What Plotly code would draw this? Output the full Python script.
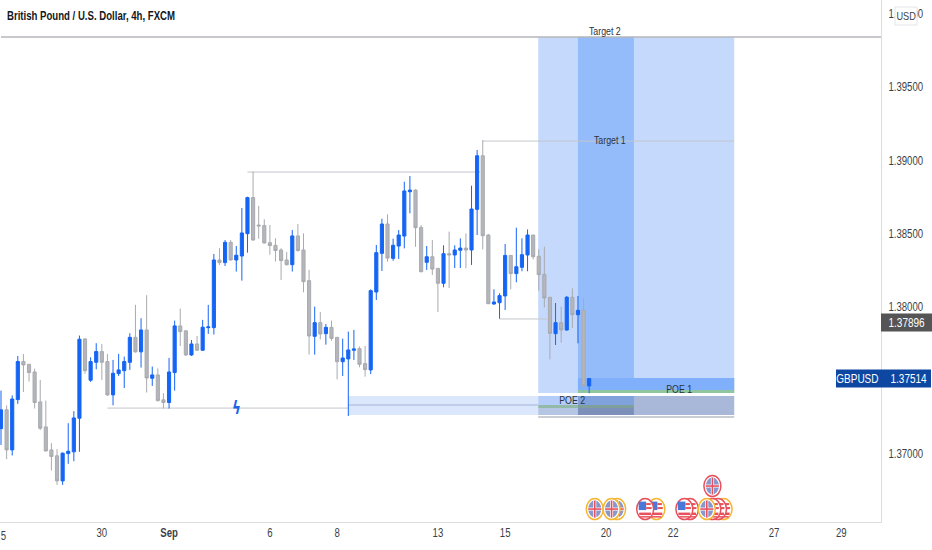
import plotly.graph_objects as go

# GBPUSD 4h candles
opens = [1.37173, 1.37301, 1.37028, 1.37371, 1.37630, 1.37611, 1.37559, 1.37355, 1.37185, 1.37028,
         1.36988, 1.36817, 1.37003, 1.37015, 1.37244, 1.37784, 1.37503, 1.37625, 1.37698, 1.37630,
         1.37403, 1.37548, 1.37568, 1.37625, 1.37795, 1.37696, 1.37845, 1.37516, 1.37539, 1.37369,
         1.37351, 1.37555, 1.37873, 1.37839, 1.37675, 1.37750, 1.37707, 1.37861, 1.37861, 1.38322,
         1.38304, 1.38442, 1.38322, 1.38349, 1.38501, 1.38747, 1.38560, 1.38556, 1.38440, 1.38422,
         1.38390, 1.38322, 1.38290, 1.38486, 1.38390, 1.38181, 1.37802, 1.37895, 1.37820, 1.37863,
         1.37795, 1.37629, 1.37648, 1.37707, 1.37718, 1.37616, 1.37573, 1.38104, 1.38367, 1.38567,
         1.38333, 1.38417, 1.38485, 1.38787, 1.38798, 1.38544, 1.38306, 1.38344, 1.38265, 1.38163,
         1.38365, 1.38356, 1.38388, 1.38403, 1.38390, 1.38667, 1.39032, 1.38492, 1.38022, 1.38031,
         1.38077, 1.38353, 1.38229, 1.38272, 1.38356, 1.38492, 1.38347, 1.38224, 1.38068, 1.37820,
         1.37895, 1.37845, 1.38068, 1.37949, 1.37979, 1.37464]
highs = [1.37432, 1.37332, 1.37400, 1.37668, 1.37682, 1.37611, 1.37582, 1.37505, 1.37364, 1.37074,
         1.37033, 1.37010, 1.37210, 1.37292, 1.37807, 1.37789, 1.37659, 1.37755, 1.37750, 1.37682,
         1.37641, 1.37682, 1.37664, 1.37823, 1.38016, 1.37925, 1.38082, 1.37596, 1.37584, 1.37414,
         1.37655, 1.37909, 1.37991, 1.37843, 1.37777, 1.37805, 1.37914, 1.38016, 1.38363, 1.38402,
         1.38458, 1.38458, 1.38417, 1.38676, 1.38753, 1.38924, 1.38690, 1.38599, 1.38560, 1.38470,
         1.38402, 1.38377, 1.38526, 1.38567, 1.38503, 1.38254, 1.38004, 1.37968, 1.37886, 1.37909,
         1.37795, 1.37786, 1.37834, 1.37845, 1.37732, 1.37736, 1.38122, 1.38424, 1.38603, 1.38633,
         1.38467, 1.38526, 1.38855, 1.38894, 1.38803, 1.38560, 1.38417, 1.38458, 1.38265, 1.38422,
         1.38515, 1.38422, 1.38469, 1.38503, 1.38828, 1.39071, 1.39139, 1.38499, 1.38122, 1.38095,
         1.38431, 1.38356, 1.38542, 1.38469, 1.38530, 1.38492, 1.38394, 1.38412, 1.38068, 1.38029,
         1.38004, 1.38077, 1.38129, 1.38077, 1.38061, 1.37516]
lows = [1.37062, 1.36965, 1.36990, 1.37342, 1.37423, 1.37494, 1.37310, 1.37164, 1.37017, 1.36888,
        1.36790, 1.36790, 1.36933, 1.36951, 1.37015, 1.37546, 1.37491, 1.37577, 1.37505, 1.37396,
        1.37332, 1.37532, 1.37450, 1.37573, 1.37691, 1.37589, 1.37419, 1.37464, 1.37357, 1.37310,
        1.37310, 1.37432, 1.37736, 1.37668, 1.37668, 1.37705, 1.37705, 1.37818, 1.37814, 1.38288,
        1.38281, 1.38318, 1.38243, 1.38181, 1.38372, 1.38454, 1.38467, 1.38433, 1.38358, 1.38311,
        1.38186, 1.38284, 1.38243, 1.38379, 1.38102, 1.37677, 1.37677, 1.37781, 1.37745, 1.37772,
        1.37509, 1.37532, 1.37259, 1.37641, 1.37591, 1.37527, 1.37545, 1.38049, 1.38247, 1.38310,
        1.38317, 1.38329, 1.38401, 1.38640, 1.38412, 1.38238, 1.38254, 1.38220, 1.37968, 1.38136,
        1.38131, 1.38267, 1.38267, 1.38265, 1.38288, 1.38492, 1.38394, 1.38022, 1.38017, 1.37922,
        1.37981, 1.38122, 1.38170, 1.38245, 1.38245, 1.38326, 1.38113, 1.37999, 1.37645, 1.37743,
        1.37759, 1.37840, 1.37859, 1.37754, 1.37425, 1.37414]
closes = [1.37301, 1.37028, 1.37375, 1.37630, 1.37607, 1.37555, 1.37351, 1.37176, 1.37021, 1.36983,
          1.36817, 1.37006, 1.37019, 1.37246, 1.37782, 1.37568, 1.37630, 1.37698, 1.37625, 1.37403,
          1.37550, 1.37573, 1.37630, 1.37795, 1.37696, 1.37845, 1.37518, 1.37539, 1.37364, 1.37351,
          1.37559, 1.37873, 1.37834, 1.37675, 1.37750, 1.37707, 1.37864, 1.37866, 1.38322, 1.38304,
          1.38442, 1.38322, 1.38354, 1.38506, 1.38747, 1.38458, 1.38554, 1.38438, 1.38420, 1.38386,
          1.38318, 1.38290, 1.38486, 1.38386, 1.38174, 1.37804, 1.37895, 1.37818, 1.37863, 1.37788,
          1.37629, 1.37654, 1.37709, 1.37716, 1.37611, 1.37575, 1.38113, 1.38372, 1.38567, 1.38335,
          1.38422, 1.38492, 1.38792, 1.38798, 1.38542, 1.38242, 1.38344, 1.38260, 1.38163, 1.38365,
          1.38356, 1.38390, 1.38403, 1.38390, 1.38669, 1.39032, 1.38487, 1.38024, 1.38036, 1.38079,
          1.38353, 1.38229, 1.38276, 1.38358, 1.38492, 1.38344, 1.38222, 1.38063, 1.37822, 1.37895,
          1.37845, 1.38068, 1.37949, 1.37979, 1.37464, 1.37514]
candle_index = list(range(len(opens)))

# axis labels
date_ticks = [18, 30, 48, 60, 78, 90, 108, 120, 138, 150]
date_labels = ['30', '<b>Sep</b>', '6', '8', '13', '15', '20', '22', '27', '29']
price_ticks = [1.37, 1.375, 1.38, 1.385, 1.39, 1.395, 1.40]
price_labels = ['1.37000', '1.37500', '1.38000', '1.38500', '1.39000', '1.39500', '1.40000']

# levels drawn on the chart
target_2 = 1.39841
target_1 = 1.39132
swing_high = 1.38921
swing_low = 1.37920
old_low = 1.37313
poe1_top, poe1_bottom, poe1_edge = 1.37518, 1.37436, 1.37416
poe2_top, poe2_mid, poe2_bottom, poe2_edge = 1.37395, 1.37334, 1.37266, 1.37252
box_left, band_left, band_right, box_right = 95.9, 103.0, 113.0, 130.9
last_price = 1.37514
mark_price = 1.37896

# economic calendar icons, back to front
event_x = [110, 106, 109, 117, 115, 123, 122, 129, 128, 127, 126, 127]
event_flag = ['uk', 'uk', 'uk', 'us', 'us', 'us', 'us', 'us', 'us', 'us', 'uk', 'uk']
event_ring = ['#f5b731', '#f5b731', '#f5b731', '#f5b731', '#e8505b', '#e8505b', '#e8505b',
              '#f5b731', '#e8505b', '#e8505b', '#f5b731', '#e8505b']
event_y = [1.36625] * 11 + [1.36782]

FONT = 'Liberation Sans'
BLUE = '#1565f5'
GREY = '#b4b6bb'

fig = go.Figure()
fig.add_trace(go.Candlestick(
    x=candle_index, open=opens, high=highs, low=lows, close=closes,
    increasing=dict(line=dict(color=BLUE, width=1), fillcolor=BLUE),
    decreasing=dict(line=dict(color='#a8aaaf', width=1), fillcolor=GREY),
    whiskerwidth=0, showlegend=False, hoverinfo='skip',
))


def box(x0, x1, y0, y1, color):
    fig.add_shape(type='rect', x0=x0, x1=x1, y0=y0, y1=y1, fillcolor=color,
                  line_width=0, layer='below')


def level(x0, x1, y, color='#c4c6cb', width=1, layer='below'):
    fig.add_shape(type='line', x0=x0, x1=x1, y0=y, y1=y,
                  line=dict(color=color, width=width), layer=layer)


# long position boxes
box(box_left, box_right, poe1_edge, target_2, '#c5d9fd')
box(band_left, band_right, poe1_edge, target_2, '#94bcfb')
box(band_left, box_right, poe1_bottom, poe1_top, '#80b0fb')
box(band_left, box_right, poe1_edge, poe1_bottom, '#8fc6a0')
box(62, box_left, poe2_bottom, poe2_top, '#dbe7fd')
box(box_left, band_left, poe2_mid, poe2_top, '#b4cdf8')
box(box_left, band_left, old_low, poe2_mid, '#93b9a8')
box(box_left, band_left, poe2_bottom, old_low, '#b5c5e4')
box(band_left, band_right, poe2_mid, poe2_top, '#7fa2dc')
box(band_left, band_right, old_low, poe2_mid, '#7f9f9a')
box(band_left, band_right, poe2_bottom, old_low, '#7d90ba')
box(band_right, box_right, poe2_bottom, poe2_top, '#a9b8d8')

level(0, 157.1, target_2, '#b4b6ba', 1.5, 'above')
level(86, box_right, target_1)
level(44, 85.5, swing_high)
level(89, 97.5, swing_low)
level(19, 62, old_low)
level(62, box_left, poe2_mid, '#b7c6e6', 1.5)
level(box_left, box_right, poe2_edge, '#b9bcc2', 1.5)


def pixel_shape(kind, x, y, dx0, dx1, dy0, dy1, color, ring=None):
    fig.add_shape(type=kind, xsizemode='pixel', ysizemode='pixel', xanchor=x, yanchor=y,
                  x0=dx0, x1=dx1, y0=dy0, y1=dy1, fillcolor=color,
                  line=dict(color=ring or color, width=1.5 if ring else 0), layer='above')


for x, y, flag, ring in zip(event_x, event_y, event_flag, event_ring):
    pixel_shape('circle', x, y, -8.5, 8.5, -10.5, 10.5, 'white', ring)
    if flag == 'uk':
        pixel_shape('circle', x, y, -6.5, 6.5, -8.5, 8.5, '#8a97c9')
        pixel_shape('rect', x, y, -6.5, 6.5, -1.5, 1.5, 'white')
        pixel_shape('rect', x, y, -1.5, 1.5, -8.5, 8.5, 'white')
        pixel_shape('rect', x, y, -6.5, 6.5, -0.8, 0.8, '#e8505b')
        pixel_shape('rect', x, y, -0.8, 0.8, -8.5, 8.5, '#e8505b')
    else:
        pixel_shape('rect', x, y, -6, 6, -6, -3.5, '#e8505b')
        pixel_shape('rect', x, y, -5, 5, -8.5, -7, '#e8505b')
        pixel_shape('rect', x, y, -6.5, 1, -1, 7.5, '#4a78d8')
        pixel_shape('rect', x, y, 1, 6.5, 0, 2, '#e8505b')
        pixel_shape('rect', x, y, 1, 5.5, 4, 6, '#e8505b')


def note(x, y, text, yshift=0):
    fig.add_annotation(x=x, y=y, text=text, showarrow=False, yshift=yshift,
                       font=dict(family=FONT, size=11, color='#2a3140'))


def page_text(x, y, text, size=12, color='#3c3f48', weight=400):
    # x and y in page pixels, x is the middle of the text
    fig.add_annotation(xref='paper', yref='paper', x=x / 881, y=1 - y / 522, text=text,
                       showarrow=False, xanchor='center', yanchor='middle',
                       font=dict(family=FONT, size=size, color=color, weight=weight))


def price_badge(x0, x1, price, color):
    fig.add_shape(type='rect', xref='paper', x0=x0 / 881, x1=x1 / 881, ysizemode='pixel',
                  yanchor=price, y0=-9, y1=9, fillcolor=color, line_width=0, layer='above')


note(107.9, target_2, 'Target 2', yshift=6)
note(108.8, target_1, 'Target 1', yshift=1)
note(121, poe1_bottom, 'POE 1', yshift=1)
note(102, poe2_top, 'POE 2', yshift=-4)
fig.add_annotation(x=42, y=old_low, text='ϟ', showarrow=False,
                   font=dict(family='DejaVu Sans', size=17, color='#1e63e6', weight=700))

# header, stray date label and price scale badges
page_text(90.5, 16, 'British Pound / U.S. Dollar, 4h, FXCM', size=12, color='#131722', weight=700)
page_text(3, 536, '5')
fig.add_shape(type='rect', xref='paper', yref='paper', x0=895 / 881, x1=917 / 881,
              y0=1 - 25 / 522, y1=1 - 7 / 522, fillcolor='white',
              line=dict(color='#e3e4e8', width=1), layer='above')
page_text(906, 16, 'USD', size=11.5)
price_badge(881, 932, mark_price, '#555555')
page_text(906.5, 323, '1.37896', size=12.5, color='white')
price_badge(836, 931, last_price, '#0d47a1')
page_text(857, 379, 'GBPUSD', size=12.5, color='white')
page_text(908, 379, '1.37514', size=12.5, color='white')

fig.update_layout(
    width=932, height=550,
    margin=dict(l=0, r=51, t=0, b=28),
    paper_bgcolor='white', plot_bgcolor='white',
    font=dict(family=FONT, size=12, color='#3c3f48'),
    showlegend=False,
    boxgap=0.2,
    xaxis=dict(range=[-0.18, 157.1], tickvals=date_ticks, ticktext=date_labels, tickangle=0,
               showgrid=False, zeroline=False, rangeslider_visible=False, ticks='', showline=True,
               linecolor='#dcdde0', linewidth=1, automargin=False),
    yaxis=dict(range=[1.36537, 1.40093], side='right', tickvals=price_ticks, ticktext=price_labels,
               showgrid=False, zeroline=False, ticks='outside', ticklen=4, tickcolor='white',
               showline=True, linecolor='#dcdde0', linewidth=1, automargin=False),
)

# the chart's UI font is a condensed one, none is installed so squeeze the text a bit
squeeze = """
document.body.style.margin = '0';
document.querySelectorAll('.main-svg text').forEach(function (t) {
    t.setAttribute('textLength', t.getComputedTextLength() * 0.8);
    t.setAttribute('lengthAdjust', 'spacingAndGlyphs');
});
"""
fig.write_html("out.html", config={'displayModeBar': False}, post_script=squeeze)
